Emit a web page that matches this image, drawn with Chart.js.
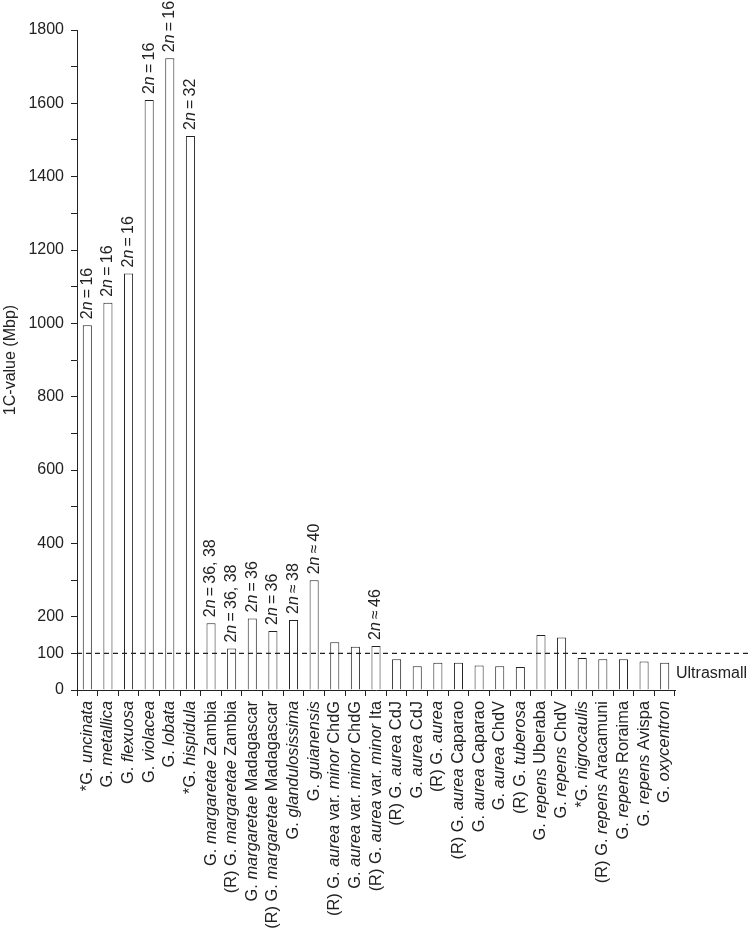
<!DOCTYPE html>
<html>
<head>
<meta charset="utf-8">
<script src="https://cdn.jsdelivr.net/npm/chart.js@4.4.1/dist/chart.umd.min.js"></script>
<style>
    body { margin: 0; background: #fff; }
    #wrap { width: 749px; height: 931px; }
</style>
</head>
<body>
<div id="wrap"><canvas id="grafico"></canvas></div>
<script>
// ===== DADOS =====
// texto entre _ _ fica em italico
const categorias = [
    "*G. _uncinata_", "G. _metallica_", "G. _flexuosa_", "G. _violacea_", "G. _lobata_", "*G. _hispidula_",
    "G. _margaretae_ Zambia", "(R) G. _margaretae_ Zambia", "G. _margaretae_ Madagascar",
    "(R) G. _margaretae_ Madagascar", "G. _glandulosissima_", "G. _guianensis_",
    "(R) G. _aurea_ var. _minor_ ChdG", "G. _aurea_ var. _minor_ ChdG", "(R) G. _aurea_ var. _minor_ Ita",
    "(R) G. _aurea_ CdJ", "G. _aurea_ CdJ", "(R) G. _aurea_", "(R) G. _aurea_ Caparao", "G. _aurea_ Caparao",
    "G. _aurea_ ChdV", "(R) G. _tuberosa_", "G. _repens_ Uberaba", "G. _repens_ ChdV", "*G. _nigrocaulis_",
    "(R) G. _repens_ Aracamuni", "G. _repens_ Roraima", "G. _repens_ Avispa", "G. _oxycentron_"
];

const valores = [
    995, 1056, 1136, 1609, 1723, 1511,
    182, 113, 195, 161, 191, 299,
    130, 118, 120, 84, 65, 74, 74, 67, 65, 63,
    150, 143, 87, 84, 84, 78, 74
];

const cromossomos = [
    "2_n_\u2009=\u200916", "2_n_\u2009=\u200916", "2_n_\u2009=\u200916", "2_n_\u2009=\u200916", "2_n_\u2009=\u200916",
    "2_n_\u2009=\u200932",
    "2_n_\u2009=\u200936, 38", "2_n_\u2009=\u200936, 38", "2_n_\u2009=\u200936", "2_n_\u2009=\u200936",
    "2_n_\u2009\u2248\u200938", "2_n_\u2009\u2248\u200940",
    null, null, "2_n_\u2009\u2248\u200946",
    null, null, null, null, null, null, null, null, null, null, null, null, null, null
];

const yTicks = [0, 100, 200, 400, 600, 800, 1000, 1200, 1400, 1600, 1800];
const limiteUltra = 100;

const FONTE = '"Liberation Sans", Arial, sans-serif';
const COR = "#222";

// ===== TEXTO ROTACIONADO COM ITALICO =====
function partes(str) {
    return str.split("_")
        .map((t, k) => ({ texto: t, italico: k % 2 === 1 }))
        .filter(p => p.texto.length > 0);
}

function textoRotacionado(ctx, str, px, py, alinhamento, tamanho) {
    const ps = partes(str);
    ctx.save();
    ctx.translate(px, py);
    ctx.rotate(-Math.PI / 2);
    ctx.fillStyle = COR;
    ctx.textBaseline = "middle";
    ctx.textAlign = "left";

    let total = 0;
    ps.forEach(p => {
        ctx.font = (p.italico ? "italic " : "") + tamanho + "px " + FONTE;
        p.largura = ctx.measureText(p.texto).width;
        total += p.largura;
    });

    let pos = alinhamento === "right" ? -total : 0;
    ps.forEach(p => {
        ctx.font = (p.italico ? "italic " : "") + tamanho + "px " + FONTE;
        ctx.fillText(p.texto, pos, 0);
        pos += p.largura;
    });
    ctx.restore();
}

// ===== PLUGIN: linha tracejada, anotacoes e nomes =====
const desenhos = {
    id: "desenhos",
    afterDatasetsDraw(chart) {
        const ctx = chart.ctx;
        const xs = chart.scales.x;
        const ys = chart.scales.y;
        const area = chart.chartArea;

        // linha de 100 Mbp
        const yRef = ys.getPixelForValue(limiteUltra);
        ctx.save();
        ctx.strokeStyle = COR;
        ctx.lineWidth = 1.2;
        ctx.setLineDash([5, 4]);
        ctx.beginPath();
        ctx.moveTo(area.left, yRef);
        ctx.lineTo(chart.width - 1, yRef);
        ctx.stroke();
        ctx.restore();

        // Ultrasmall
        ctx.save();
        ctx.fillStyle = COR;
        ctx.font = "16px " + FONTE;
        ctx.textBaseline = "middle";
        ctx.textAlign = "left";
        ctx.fillText("Ultrasmall", area.right + 1, ys.getPixelForValue(45));
        ctx.restore();

        // numero cromossomico
        const meta = chart.getDatasetMeta(0);
        meta.data.forEach((barra, i) => {
            if (!cromossomos[i]) return;
            textoRotacionado(ctx, cromossomos[i], barra.x, barra.y - 6, "left", 16);
        });

        // nomes das especies
        categorias.forEach((c, i) => {
            textoRotacionado(ctx, c, xs.getPixelForValue(i), xs.top + 11, "right", 16.4);
        });
    }
};

// ===== GRAFICO =====
const ctx = document.getElementById("grafico").getContext("2d");

window.grafico = new Chart(ctx, {
    type: "bar",
    data: {
        labels: categorias.map(c => c.replace(/_/g, "")),
        datasets: [{
            data: valores,
            backgroundColor: "#fff",
            borderColor: COR,
            borderWidth: 1,
            barPercentage: 0.44,
            categoryPercentage: 1.0
        }]
    },
    options: {
        responsive: true,
        maintainAspectRatio: false,
        animation: false,
        layout: { padding: { top: 30, right: 74, left: 0, bottom: 0 } },
        plugins: {
            legend: { display: false },
            tooltip: { enabled: false }
        },
        scales: {
            x: {
                grid: { offset: true, drawOnChartArea: false, tickLength: 6, color: COR },
                border: { color: COR, width: 1 },
                ticks: { display: false },
                afterFit(s) { s.height = 241; }
            },
            y: {
                min: 0,
                max: 1800,
                ticks: {
                    stepSize: 100,
                    autoSkip: false,
                    padding: 7,
                    color: COR,
                    font: { family: FONTE, size: 16 },
                    callback: v => yTicks.includes(v) ? v : ""
                },
                grid: { drawOnChartArea: false, tickLength: 6, color: COR },
                border: { color: COR, width: 1 },
                title: {
                    display: true,
                    text: "1C-value (Mbp)",
                    color: COR,
                    font: { family: FONTE, size: 16 },
                    padding: { top: 1, bottom: 0 }
                },
                afterFit(s) { s.width = 77; }
            }
        }
    },
    plugins: [desenhos]
});
</script>
</body>
</html>
